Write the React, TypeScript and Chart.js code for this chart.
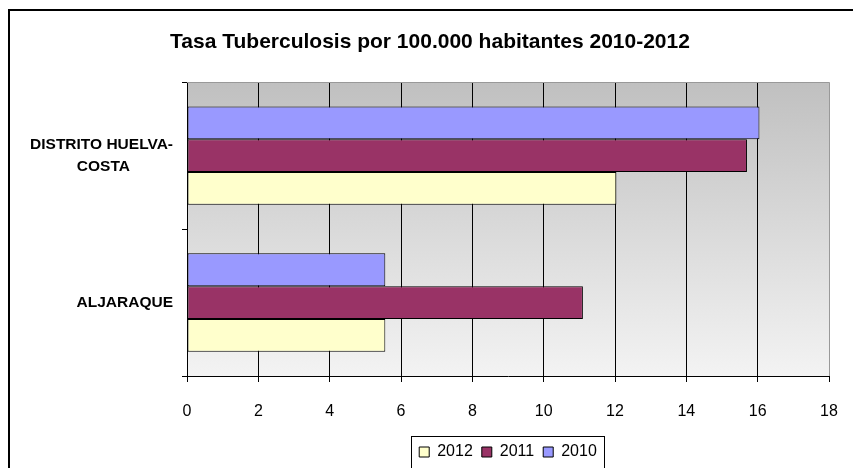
import React, { useEffect, useRef } from "react";
import { Chart, registerables } from "chart.js";

Chart.register(...registerables);

const FONT = "'Liberation Sans', Arial, Helvetica, sans-serif";

const titleText = "Tasa Tuberculosis por 100.000 habitantes 2010-2012";
const categories = [["DISTRITO HUELVA-", "COSTA"], ["ALJARAQUE"]];
const seriesNames = ["2010", "2011", "2012"];
const values2010 = [16.05, 5.56];
const values2011 = [15.7, 11.1];
const values2012 = [12.04, 5.56];
const seriesColors = ["#9999FF", "#993366", "#FFFFCC"];
const xMin = 0;
const xMax = 18;
const xStep = 2;

const plotDecor = {
  id: "plotDecor",
  beforeDraw(chart: any) {
    const { ctx, chartArea } = chart;
    if (!chartArea) return;
    const g = ctx.createLinearGradient(0, chartArea.top, 0, chartArea.bottom);
    g.addColorStop(0, "#c0c0c0");
    g.addColorStop(1, "#f3f3f3");
    ctx.save();
    ctx.fillStyle = g;
    ctx.fillRect(chartArea.left, chartArea.top, chartArea.right - chartArea.left, chartArea.bottom - chartArea.top);
    ctx.restore();
  },
  afterDraw(chart: any) {
    const { ctx, chartArea } = chart;
    ctx.save();
    ctx.strokeStyle = "#999999";
    ctx.lineWidth = 1;
    ctx.beginPath();
    ctx.moveTo(chartArea.left, Math.round(chartArea.top) + 0.5);
    ctx.lineTo(chartArea.right, Math.round(chartArea.top) + 0.5);
    ctx.stroke();
    // legend frame
    const lg = chart.legend;
    if (lg && lg.legendHitBoxes && lg.legendHitBoxes.length) {
      const hb = lg.legendHitBoxes;
      let l = Infinity, r = -Infinity, t = Infinity, b = -Infinity;
      hb.forEach((h: any) => {
        l = Math.min(l, h.left);
        r = Math.max(r, h.left + h.width);
        t = Math.min(t, h.top);
        b = Math.max(b, h.top + h.height);
      });
      const cy = (t + b) / 2;
      ctx.strokeStyle = "#000000";
      ctx.lineWidth = 1;
      ctx.strokeRect(Math.round(l - 8) + 0.5, Math.round(cy - 16) + 0.5, Math.round(r - l + 15), 32);
    }
    ctx.restore();
  },
};

export default function App() {
  const ref = useRef<HTMLCanvasElement | null>(null);

  useEffect(() => {
    if (!ref.current) return;
    const chart = new Chart(ref.current, {
      type: "bar",
      data: {
        labels: categories as any,
        datasets: [
          { label: seriesNames[0], data: values2010, backgroundColor: seriesColors[0] },
          { label: seriesNames[1], data: values2011, backgroundColor: seriesColors[1] },
          { label: seriesNames[2], data: values2012, backgroundColor: seriesColors[2] },
        ].map((d) => ({
          ...d,
          borderColor: "#000000",
          borderWidth: 1,
          borderSkipped: false,
          categoryPercentage: 0.67,
          barPercentage: 1.0,
        })),
      },
      options: {
        indexAxis: "y",
        responsive: false,
        animation: false,
        devicePixelRatio: 1,
        layout: { padding: { left: 21, right: 24, top: 0, bottom: -2 } },
        plugins: {
          title: {
            display: true,
            text: titleText,
            color: "#000",
            font: { family: FONT, size: 21, weight: "bold", lineHeight: 1.2 },
            padding: { top: 19, bottom: 27 },
          },
          legend: {
            display: true,
            position: "bottom",
            fullSize: false,
            reverse: true,
            labels: {
              color: "#000",
              font: { family: FONT, size: 16 },
              boxWidth: 10,
              boxHeight: 10,
              padding: 9,
            },
          },
          tooltip: { enabled: false },
        },
        scales: {
          x: {
            type: "linear",
            min: xMin,
            max: xMax,
            ticks: {
              stepSize: xStep,
              color: "#000",
              font: { family: FONT, size: 16, lineHeight: 1.8 },
              padding: 15,
              maxRotation: 0,
            },
            grid: {
              color: (c: any) => (c.index === (xMax - xMin) / xStep ? "#999999" : "#000000"),
              tickColor: "#000000",
              tickLength: 6,
              lineWidth: 1,
            },
            border: { color: "#000000", width: 1 },
            afterFit: (s: any) => {
              s.height = 59;
            },
          },
          y: {
            type: "category",
            ticks: {
              color: "#000",
              font: { family: FONT, size: 15.5, weight: "bold", lineHeight: 1.42 },
              padding: 9,
              callback: function (this: any, value: any) {
                const lab = this.getLabelForValue(value);
                const lines: string[] = Array.isArray(lab) ? lab.slice() : [String(lab)];
                if (lines.length < 2) return lines[0];
                const ctx: CanvasRenderingContext2D = this.ctx;
                ctx.save();
                ctx.font = "bold 15.5px " + FONT;
                const widths = lines.map((t) => ctx.measureText(t).width);
                const maxW = Math.max(...widths);
                const sp = ctx.measureText(" ").width;
                ctx.restore();
                return lines.map((t, i) => t + " ".repeat(Math.max(0, Math.round((maxW - widths[i]) / 2 / sp))));
              },
            },
            grid: {
              display: true,
              drawOnChartArea: false,
              offset: true,
              color: "#000000",
              tickColor: "#000000",
              tickLength: 5,
            },
            border: { color: "#000000", width: 1 },
            afterFit: (s: any) => {
              s.width = 156;
            },
          },
        },
      },
      plugins: [plotDecor],
    });
    return () => chart.destroy();
  }, []);

  return (
    <div
      style={{
        position: "fixed",
        left: 8,
        top: 9,
        width: 845,
        height: 459,
        borderLeft: "2px solid #000",
        borderTop: "2px solid #000",
        background: "#fff",
        boxSizing: "border-box",
        overflow: "hidden",
      }}
    >
      <canvas ref={ref} width={843} height={457} style={{ display: "block" }} />
    </div>
  );
}
